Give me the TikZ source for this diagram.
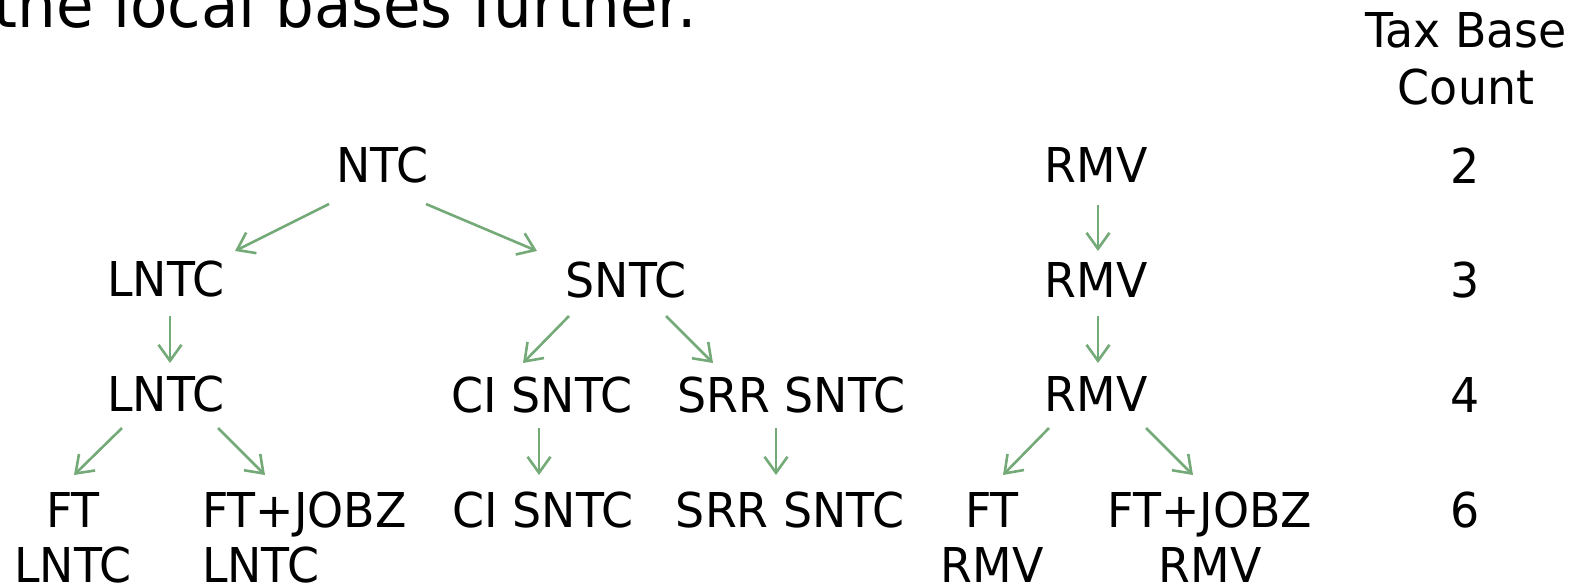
\documentclass[tikz,border=0pt]{standalone}
\usepackage{fontspec}
\setmainfont{DejaVu Sans}[FakeStretch=0.955]
\usetikzlibrary{arrows.meta,calc}
\definecolor{arrowgreen}{RGB}{116,170,120}
\tikzset{
  lbl/.style={inner sep=0pt, outer sep=0pt, anchor=base, align=center,
    font=\fontsize{48}{55}\selectfont},
  arr/.style={draw=arrowgreen, line width=2.6pt,
    -{Straight Barb[length=16pt,width=23pt,line width=2.6pt]}}
}
\begin{document}
\begin{tikzpicture}[x=1pt,y=-1pt]
\useasboundingbox (0,0) rectangle (1585,587);

% heading line and column header (base anchor = last line)
\node[inner sep=0pt, anchor=base east, font=\fontsize{64}{70}\selectfont]
  (title) at (697,27) {the local bases further.};
\node[lbl, font=\fontsize{48}{57}\selectfont] (hdr) at (1466,104) {Tax Base\\Count};

% NTC tree
\node[lbl] (ntc)   at (382.5,182) {NTC};
\node[lbl] (lntcA) at (166,296)   {LNTC};
\node[lbl] (sntc)  at (626,297)   {SNTC};
\node[lbl] (lntcB) at (166,411)   {LNTC};
\node[lbl] (ciA)   at (542,412)   {CI SNTC};
\node[lbl] (srrA)  at (791.5,412) {SRR SNTC};
\node[lbl] (ftL)   at (73,582)    {FT\\LNTC};
\node[lbl, anchor=base west, align=left] (ftjL) at (202,582) {FT+JOBZ\\LNTC};
\node[lbl] (ciB)   at (543,527)   {CI SNTC};
\node[lbl] (srrB)  at (790,527)   {SRR SNTC};

% RMV chain
\node[lbl] (rmvA) at (1096,182) {RMV};
\node[lbl] (rmvB) at (1096,297) {RMV};
\node[lbl] (rmvC) at (1096,411) {RMV};
\node[lbl] (ftR)  at (992,582)  {FT\\RMV};
\node[lbl] (ftjR) at (1210,582) {FT+JOBZ\\RMV};

% base counts per level
\node[lbl] (cA) at (1465,183) {2};
\node[lbl] (cB) at (1465,297) {3};
\node[lbl] (cC) at (1465,412) {4};
\node[lbl] (cD) at (1465,527) {6};

% connectors
\draw[arr] ($(ntc.base)+(-53.5,22)$) -- ($(lntcA.base)+(69,-45)$);
\draw[arr] ($(ntc.base)+(43.5,22)$)  -- ($(sntc.base)+(-89,-46)$);
\draw[arr] ($(lntcA.base)+(4,20)$)   -- ($(lntcB.base)+(4,-48)$);
\draw[arr] ($(sntc.base)+(-57,19)$)  -- ($(ciA.base)+(-19,-49)$);
\draw[arr] ($(sntc.base)+(40,19)$)   -- ($(srrA.base)+(-78.5,-49)$);
\draw[arr] ($(lntcB.base)+(-44,17)$) -- ($(ftL.base)+(1,-107)$);
\draw[arr] ($(lntcB.base)+(52,17)$)  -- ($(ftjL.base west)+(63,-107)$);
\draw[arr] ($(ciA.base)+(-3,16)$)    -- ($(ciB.base)+(-4,-52)$);
\draw[arr] ($(srrA.base)+(-15.5,16)$) -- ($(srrB.base)+(-14,-52)$);
\draw[arr] ($(rmvA.base)+(2,23)$)    -- ($(rmvB.base)+(2,-46)$);
\draw[arr] ($(rmvB.base)+(2,19)$)    -- ($(rmvC.base)+(2,-48)$);
\draw[arr] ($(rmvC.base)+(-47,17)$)  -- ($(ftR.base)+(11,-107)$);
\draw[arr] ($(rmvC.base)+(50,17)$)   -- ($(ftjR.base)+(-17,-107)$);
\end{tikzpicture}
\end{document}
